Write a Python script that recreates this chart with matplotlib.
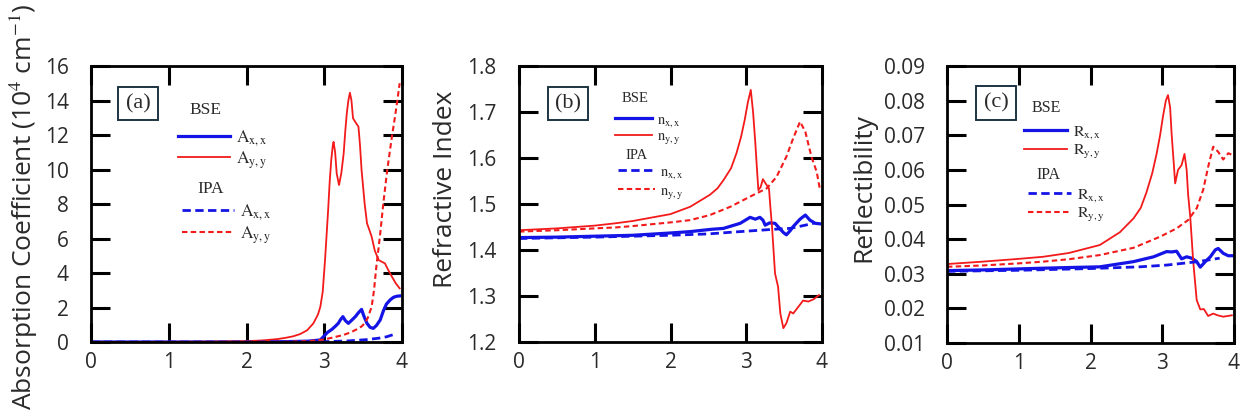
import matplotlib
matplotlib.use("Agg")
import matplotlib.pyplot as plt
from matplotlib.legend import Legend

plt.rcParams['mathtext.fontset'] = 'stix'

# ---------------- data ----------------
energy_ticks = [0, 1, 2, 3, 4]

# (a) absorption coefficient (10^4 cm^-1)
a_bse_yy_x = [0, 0.5, 1.0, 1.5, 2.0, 2.2, 2.4, 2.5, 2.6, 2.69, 2.78, 2.86, 2.92, 2.95, 2.98, 3.01, 3.03,
              3.05, 3.07, 3.09, 3.11, 3.12, 3.14, 3.16, 3.19, 3.22, 3.25, 3.27, 3.29, 3.31, 3.33, 3.35,
              3.37, 3.40, 3.44, 3.46, 3.48, 3.52, 3.55, 3.58, 3.61, 3.65, 3.70, 3.74, 3.78, 3.82, 3.87,
              3.92, 3.97]
a_bse_yy = [0, 0, 0.01, 0.02, 0.05, 0.09, 0.17, 0.24, 0.33, 0.46, 0.68, 1.08, 1.6, 2.05, 2.9, 4.75, 6.2,
            7.65, 9.3, 10.55, 11.4, 11.6, 11.0, 9.78, 9.1, 9.8, 10.94, 12.2, 13.26, 14.0, 14.45, 14.0,
            12.97, 12.75, 12.48, 11.4, 9.97, 8.0, 6.88, 6.5, 6.1, 5.3, 4.75, 4.65, 4.56, 4.2, 3.79,
            3.4, 3.11]
a_bse_xx_x = [0, 1, 2, 2.5, 2.8, 2.95, 2.99, 3.04, 3.10, 3.14, 3.18, 3.21, 3.24, 3.27, 3.31, 3.35, 3.40,
              3.44, 3.48, 3.51, 3.55, 3.59, 3.63, 3.67, 3.72, 3.76, 3.80, 3.85, 3.89, 3.93, 3.97]
a_bse_xx = [0, 0, 0, 0.02, 0.05, 0.12, 0.31, 0.55, 0.74, 0.9, 1.08, 1.3, 1.47, 1.25, 1.08, 1.25, 1.47,
            1.7, 1.89, 1.5, 1.08, 0.85, 0.79, 0.95, 1.28, 1.8, 2.2, 2.45, 2.59, 2.65, 2.67]
a_ipa_yy_x = [0, 1, 2, 2.5, 2.8, 2.99, 3.1, 3.25, 3.35, 3.42, 3.48, 3.52, 3.56, 3.61, 3.64, 3.67, 3.70,
              3.72, 3.76, 3.81, 3.87, 3.91, 3.94, 3.97]
a_ipa_yy = [0, 0, 0, 0.01, 0.05, 0.14, 0.25, 0.41, 0.58, 0.74, 0.9, 1.08, 1.4, 2.05, 3.0, 4.37, 5.5,
            6.3, 8.04, 9.97, 11.9, 13.06, 14.0, 15.0]
a_ipa_xx_x = [0, 1, 2, 3, 3.3, 3.55, 3.7, 3.8, 3.91]
a_ipa_xx = [0, 0, 0, 0.02, 0.06, 0.14, 0.22, 0.3, 0.46]
a_yticks = [0, 2, 4, 6, 8, 10, 12, 14, 16]

# (b) refractive index
b_bse_yy_x = [0, 0.5, 1.0, 1.27, 1.5, 2.0, 2.26, 2.52, 2.62, 2.70, 2.80, 2.87, 2.93, 2.98, 3.02, 3.06,
              3.09, 3.12, 3.14, 3.16, 3.19, 3.22, 3.25, 3.27, 3.30, 3.32, 3.34, 3.36, 3.38, 3.42, 3.45,
              3.49, 3.53, 3.58, 3.62, 3.69, 3.75, 3.82, 3.89, 3.96]
b_bse_yy = [1.443, 1.447, 1.453, 1.458, 1.463, 1.478, 1.494, 1.52, 1.534, 1.552, 1.578, 1.61, 1.645,
            1.683, 1.72, 1.748, 1.70, 1.632, 1.58, 1.530, 1.537, 1.554, 1.546, 1.541, 1.534, 1.49,
            1.451, 1.40, 1.349, 1.320, 1.262, 1.230, 1.241, 1.266, 1.262, 1.277, 1.290, 1.288, 1.293,
            1.302]
b_ipa_yy_x = [0, 0.5, 1.0, 1.27, 1.5, 2.0, 2.26, 2.52, 2.79, 3.05, 3.27, 3.40, 3.53, 3.62, 3.71, 3.78,
              3.86, 3.93, 3.97]
b_ipa_yy = [1.440, 1.443, 1.447, 1.449, 1.452, 1.460, 1.465, 1.476, 1.494, 1.516, 1.534, 1.559, 1.603,
            1.643, 1.679, 1.657, 1.603, 1.570, 1.534]
b_bse_xx_x = [0, 0.5, 1.0, 1.5, 2.0, 2.26, 2.54, 2.70, 2.92, 3.05, 3.12, 3.18, 3.22, 3.25, 3.31, 3.38,
              3.44, 3.49, 3.53, 3.58, 3.62, 3.71, 3.78, 3.84, 3.91, 3.97]
b_bse_xx = [1.427, 1.428, 1.430, 1.432, 1.437, 1.440, 1.445, 1.447, 1.458, 1.471, 1.467, 1.471, 1.465,
            1.454, 1.459, 1.458, 1.447, 1.438, 1.433, 1.442, 1.451, 1.467, 1.476, 1.465, 1.458, 1.457]
b_ipa_xx_x = [0, 1, 2, 2.5, 2.92, 3.36, 3.58, 3.78, 3.89]
b_ipa_xx = [1.425, 1.428, 1.432, 1.435, 1.440, 1.445, 1.447, 1.454, 1.458]
b_yticks = [1.2, 1.3, 1.4, 1.5, 1.6, 1.7, 1.8]

# (c) reflectibility
c_bse_yy_x = [0, 0.5, 1.0, 1.34, 1.7, 2.13, 2.41, 2.60, 2.70, 2.78, 2.86, 2.92, 2.97, 3.01, 3.05, 3.08,
              3.11, 3.13, 3.16, 3.18, 3.22, 3.27, 3.31, 3.34, 3.36, 3.39, 3.43, 3.48, 3.53, 3.58, 3.64,
              3.71, 3.77, 3.85, 3.97]
c_bse_yy = [0.0328, 0.0335, 0.0343, 0.0349, 0.0360, 0.0383, 0.0420, 0.0460, 0.0490, 0.0535, 0.0590,
            0.0645, 0.0700, 0.0754, 0.0800, 0.0816, 0.0780, 0.0706, 0.0620, 0.0561, 0.0600, 0.0614,
            0.0646, 0.0600, 0.0530, 0.0465, 0.0340, 0.0224, 0.0197, 0.0198, 0.0178, 0.0185, 0.0180,
            0.0176, 0.0180]
c_ipa_yy_x = [0, 0.5, 1.0, 1.34, 1.7, 2.13, 2.6, 2.97, 3.2, 3.36, 3.48, 3.57, 3.64, 3.71, 3.78, 3.85,
              3.92, 3.98]
c_ipa_yy = [0.0320, 0.0324, 0.0330, 0.0335, 0.0342, 0.0354, 0.0375, 0.0407, 0.0431, 0.0455, 0.0489,
            0.0542, 0.0609, 0.0667, 0.0652, 0.0630, 0.0648, 0.0643]
c_bse_xx_x = [0, 0.5, 1.0, 1.34, 1.7, 2.13, 2.60, 2.88, 3.06, 3.13, 3.20, 3.27, 3.34, 3.41, 3.48, 3.53,
              3.60, 3.67, 3.74, 3.78, 3.85, 3.92, 3.98]
c_bse_xx = [0.0309, 0.0311, 0.0314, 0.0316, 0.0318, 0.0320, 0.0335, 0.0349, 0.0364, 0.0363, 0.0365,
            0.0343, 0.0349, 0.0345, 0.0335, 0.0319, 0.0335, 0.0349, 0.0369, 0.0373, 0.0359, 0.0352,
            0.0352]
c_ipa_xx_x = [0, 1, 2, 2.69, 3.06, 3.5, 3.8]
c_ipa_xx = [0.0307, 0.0310, 0.0315, 0.0320, 0.0325, 0.0335, 0.0345]
c_yticks = [0.01, 0.02, 0.03, 0.04, 0.05, 0.06, 0.07, 0.08, 0.09]

panel_tags = ['(a)', '(b)', '(c)']
ylabels = ['Absorption Coefficient (10$^4$ cm$^{-1}$)', 'Refractive Index', 'Reflectibility']
symbols = ['A', 'n', 'R']
group_titles = ['BSE', 'IPA']

# ---------------- style ----------------
RED = '#f21a1a'
BLUE = '#1414e6'
TXT = '#2a2a2a'
sans = 'Open Sans'
serif = 'Liberation Serif'

fig = plt.figure(figsize=(12.56, 4.19), dpi=100)
positions = [
    [91 / 1256, 1 - 342 / 419, 311 / 1256, 276 / 419],
    [519 / 1256, 1 - 342 / 419, 303 / 1256, 276 / 419],
    [947 / 1256, 1 - 343 / 419, 287 / 1256, 277 / 419],
]
ylims = [(0, 16), (1.2, 1.8), (0.01, 0.09)]
yticks = [a_yticks, b_yticks, c_yticks]
ytick_fmt = ['{:.0f}', '{:.1f}', '{:.2f}']
data = [
    (a_bse_xx_x, a_bse_xx, a_bse_yy_x, a_bse_yy, a_ipa_xx_x, a_ipa_xx, a_ipa_yy_x, a_ipa_yy),
    (b_bse_xx_x, b_bse_xx, b_bse_yy_x, b_bse_yy, b_ipa_xx_x, b_ipa_xx, b_ipa_yy_x, b_ipa_yy),
    (c_bse_xx_x, c_bse_xx, c_bse_yy_x, c_bse_yy, c_ipa_xx_x, c_ipa_xx, c_ipa_yy_x, c_ipa_yy),
]
# legend layout per panel, axes fractions
layout = [
    dict(tag=(0.151, 0.864), titles=[(0.367, 0.840), (0.383, 0.554)],
         rows=[(0.28, 0.740), (0.28, 0.660), (0.293, 0.471), (0.293, 0.388)],
         fs=12.5, tfs=12.5, hl=3.0),
    dict(tag=(0.162, 0.864), titles=[(0.383, 0.884), (0.389, 0.674)],
         rows=[(0.317, 0.804), (0.317, 0.744), (0.327, 0.616), (0.327, 0.545)],
         fs=10.5, tfs=10.5, hl=2.5),
    dict(tag=(0.171, 0.866), titles=[(0.345, 0.848), (0.355, 0.606)],
         rows=[(0.268, 0.762), (0.268, 0.691), (0.282, 0.534), (0.282, 0.463)],
         fs=11.5, tfs=11.5, hl=2.7),
]
ylabel_fs = [19, 19, 19]
ylabel_y = [0.488, 0.554, 0.563]
ylabel_x = [-0.165, -0.20, -0.245]

for i, pos in enumerate(positions):
    ax = fig.add_axes(pos)
    bx, by, byx, byy, ix, iy, iyx, iyy = data[i]
    s = symbols[i]
    l1, = ax.plot(bx, by, color=BLUE, lw=2.3, label=r'$\mathrm{%s}_{\mathrm{x,x}}$' % s)
    l2, = ax.plot(byx, byy, color=RED, lw=1.3, label=r'$\mathrm{%s}_{\mathrm{y,y}}$' % s)
    l3, = ax.plot(ix, iy, color=BLUE, lw=2.0, ls=(0, (3, 1.6)), label=r'$\mathrm{%s}_{\mathrm{x,x}}$' % s)
    l4, = ax.plot(iyx, iyy, color=RED, lw=1.5, ls=(0, (2.6, 1.6)), label=r'$\mathrm{%s}_{\mathrm{y,y}}$' % s)

    ax.set_xlim(0, 4)
    ax.set_ylim(*ylims[i])
    ax.set_xticks(energy_ticks)
    ax.set_xticklabels([str(t) for t in energy_ticks])
    ax.set_yticks(yticks[i])
    ax.set_yticklabels([ytick_fmt[i].format(t) for t in yticks[i]])
    ax.tick_params(direction='in', length=13.5, width=2.2, top=True, right=True,
                   labelsize=15, labelcolor=TXT)
    ax.tick_params(axis='y', pad=16)
    ax.tick_params(axis='x', pad=7)
    for lab in ax.get_xticklabels() + ax.get_yticklabels():
        lab.set_fontfamily(sans)
    for sp in ax.spines.values():
        sp.set_linewidth(2.0)
    ax.set_ylabel(ylabels[i], fontsize=ylabel_fs[i], family=sans, color=TXT)
    ax.yaxis.set_label_coords(ylabel_x[i], ylabel_y[i])

    L = layout[i]
    ax.text(*L['tag'], panel_tags[i], transform=ax.transAxes, family=serif, fontsize=16,
            color=TXT, va='center', ha='center',
            bbox=dict(boxstyle='square,pad=0.33', fc='white', ec='#1d3440', lw=1.4))
    for t, (tx, ty) in zip(group_titles, L['titles']):
        ax.text(tx, ty, t, transform=ax.transAxes, family=serif, fontsize=L['tfs'],
                color=TXT, va='center', ha='center')
    for h, (rx, ry) in zip([l1, l2, l3, l4], L['rows']):
        lg = Legend(ax, [h], [h.get_label()], loc='center left', bbox_to_anchor=(rx, ry),
                    frameon=False, fontsize=L['fs'], handlelength=L['hl'], handletextpad=0.35,
                    borderpad=0, borderaxespad=0, labelcolor=TXT)
        ax.add_artist(lg)

fig.savefig('out.png', dpi=100)
